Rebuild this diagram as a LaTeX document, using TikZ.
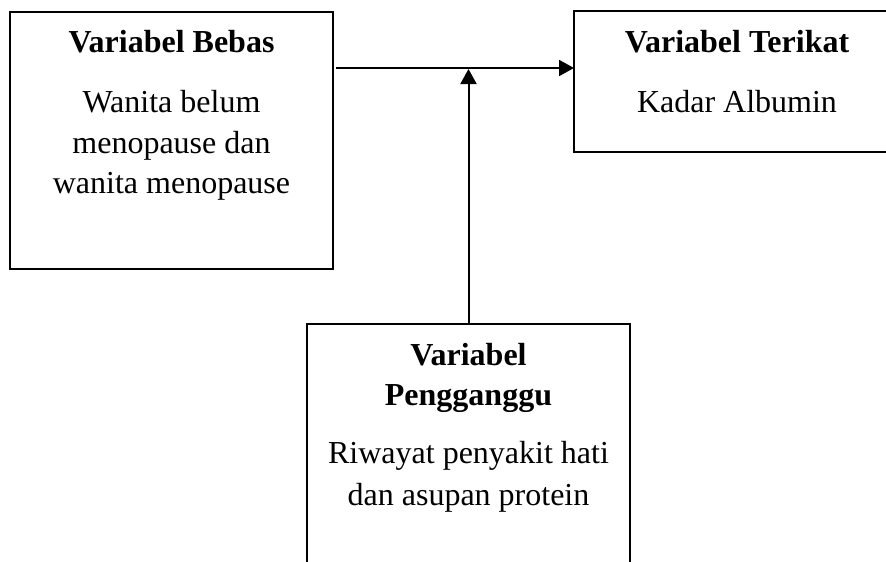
\documentclass[tikz,border=0pt]{standalone}
\usepackage{fontspec}
\setmainfont{Liberation Serif}
\usetikzlibrary{arrows.meta}
\begin{document}
\begin{tikzpicture}[x=1pt,y=-1pt,
  box/.style={draw=black,line width=2pt,inner sep=0pt,outer sep=0pt},
  ttl/.style={anchor=base,inner sep=0pt,font=\fontsize{32}{40}\selectfont\bfseries},
  txt/.style={anchor=base,inner sep=0pt,font=\fontsize{32}{40}\selectfont},
  arr/.style={line width=2pt,-{Triangle[length=15pt,width=16pt]}}]
\useasboundingbox (0,0) rectangle (886,562);
\clip (0,0) rectangle (886,562);
% boxes
\node[box,minimum width=323pt,minimum height=257pt] (L) at (171.5,140.5) {};
\node[box,minimum width=326pt,minimum height=141pt] (R) at (737,81.5) {};
\node[box,minimum width=323pt,minimum height=316pt] (B) at (468.5,482) {};
% left texts
\node[ttl] (l1) at (171.5,52) {Variabel Bebas};
\node[txt] (l2) at (171.5,112) {Wanita belum};
\node[txt] (l3) at (171.5,153) {menopause dan};
\node[txt] (l4) at (171.5,193) {wanita menopause};
% right texts
\node[ttl] (r1) at (737,52) {Variabel Terikat};
\node[txt] (r2) at (737,112) {Kadar Albumin};
% bottom texts
\node[ttl] (b1) at (468.5,365) {Variabel};
\node[ttl] (b2) at (468.5,405) {Pengganggu};
\node[txt] (b3) at (468.5,463) {Riwayat penyakit hati};
\node[txt] (b4) at (468.5,505) {dan asupan protein};
% connectors
\coordinate (ay) at (0,68);
\coordinate (ay2) at (0,69);
\draw[arr] ([xshift=3pt]L.east |- ay) -- (R.west |- ay);
\draw[arr] (B.north) -- (B.north |- ay2);
\end{tikzpicture}
\end{document}
